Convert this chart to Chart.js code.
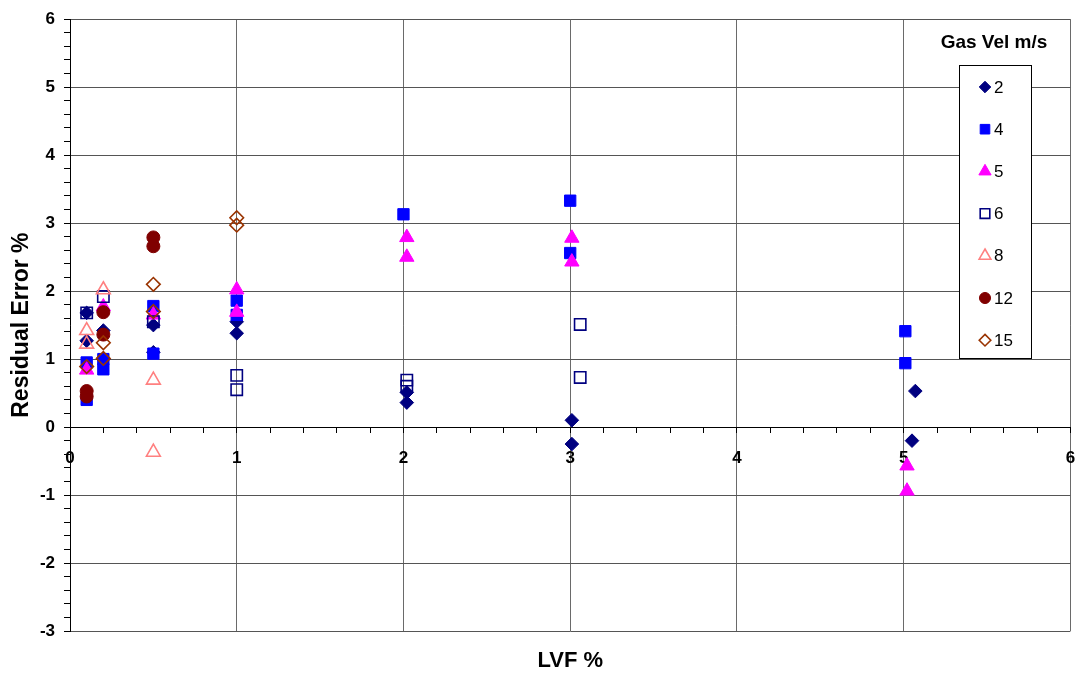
<!DOCTYPE html>
<html>
<head>
<meta charset="utf-8">
<title>Residual Error vs LVF</title>
<script src="https://cdn.jsdelivr.net/npm/chart.js"></script>
<style>
    html, body { margin: 0; padding: 0; background: #fff; }
    #wrap { width: 1080px; height: 676px; position: relative; }
</style>
</head>
<body>
<div id="wrap"><canvas id="residualChart"></canvas></div>
<script>
// RESIDUAL ERROR vs LVF - one series per gas velocity

const gasVelLabels = ['2', '4', '5', '6', '8', '12', '15'];

// gas vel 2 m/s
const lvf2 = [0.1, 0.1, 0.2, 0.2, 0.5, 0.5, 1.0, 1.0, 2.02, 2.02, 3.01, 3.01, 5.07, 5.05];
const err2 = [1.68, 1.27, 1.42, 1.00, 1.50, 1.10, 1.55, 1.38, 0.51, 0.36, 0.10, -0.25, 0.53, -0.20];

// gas vel 4 m/s
const lvf4 = [0.1, 0.1, 0.2, 0.2, 0.5, 0.5, 1.0, 1.0, 2.0, 3.0, 3.0, 5.01, 5.01];
const err4 = [0.95, 0.40, 1.00, 0.85, 1.78, 1.08, 1.86, 1.65, 3.13, 3.33, 2.56, 1.41, 0.94];

// gas vel 5 m/s
const lvf5 = [0.1, 0.2, 0.5, 1.0, 1.0, 2.02, 2.02, 3.01, 3.01, 5.02, 5.02];
const err5 = [0.84, 1.77, 1.65, 2.02, 1.69, 2.79, 2.50, 2.78, 2.43, -0.57, -0.94];

// gas vel 6 m/s
const lvf6 = [0.1, 0.2, 0.5, 1.0, 1.0, 2.02, 2.02, 3.06, 3.06];
const err6 = [1.68, 1.92, 1.55, 0.76, 0.55, 0.69, 0.60, 1.51, 0.73];

// gas vel 8 m/s
const lvf8 = [0.1, 0.1, 0.2, 0.5, 0.5];
const err8 = [1.42, 1.22, 2.02, 0.69, -0.37];

// gas vel 12 m/s
const lvf12 = [0.1, 0.1, 0.2, 0.2, 0.5, 0.5];
const err12 = [0.53, 0.45, 1.69, 1.36, 2.79, 2.66];

// gas vel 15 m/s
const lvf15 = [0.1, 0.2, 0.2, 0.5, 0.5, 1.0, 1.0];
const err15 = [0.89, 1.24, 1.01, 2.10, 1.70, 3.08, 2.97];

const xTicksMin = 0, xTicksMax = 6;
const yTicksMin = -3, yTicksMax = 6;

const seriesX = [lvf2, lvf4, lvf5, lvf6, lvf8, lvf12, lvf15];
const seriesY = [err2, err4, err5, err6, err8, err12, err15];

// marker looks (Excel-ish)
const markerStyles = [
    { shape: 'rectRot',  color: '#000080', fill: true,  r: 6.8, bw: 1 },
    { shape: 'rect',     color: '#0000FF', fill: true,  r: 8,   bw: 1 },
    { shape: 'triangle', color: '#FF00FF', fill: true,  r: 8.3, bw: 1 },
    { shape: 'rect',     color: '#000080', fill: false, r: 8,   bw: 1.6 },
    { shape: 'triangle', color: '#FF8080', fill: false, r: 8,   bw: 1.6 },
    { shape: 'circle',   color: '#800000', fill: true,  r: 6.5, bw: 1 },
    { shape: 'rectRot',  color: '#993300', fill: false, r: 6.8, bw: 1.6 }
];

const FONT = "Arial, 'Liberation Sans', sans-serif";

function isMajor(v) {
    return Math.abs(v - Math.round(v)) < 1e-6;
}

const datasets = gasVelLabels.map(function (label, i) {
    const st = markerStyles[i];
    return {
        label: label,
        data: seriesX[i].map(function (x, j) { return { x: x, y: seriesY[i][j] }; }),
        pointStyle: st.shape,
        pointRadius: st.r,
        pointHoverRadius: st.r,
        pointBorderWidth: st.bw,
        pointBorderColor: st.color,
        pointBackgroundColor: st.fill ? st.color : 'rgba(0,0,0,0)',
        showLine: false,
        order: gasVelLabels.length - i   // later series on top, like Excel
    };
});

// small marker painter for the legend
function paintMarker(ctx, st, x, y, r) {
    ctx.beginPath();
    if (st.shape === 'rect') {
        const s = Math.SQRT1_2 * r;
        ctx.rect(x - s, y - s, 2 * s, 2 * s);
    } else if (st.shape === 'rectRot') {
        ctx.moveTo(x, y - r);
        ctx.lineTo(x + r, y);
        ctx.lineTo(x, y + r);
        ctx.lineTo(x - r, y);
        ctx.closePath();
    } else if (st.shape === 'triangle') {
        ctx.moveTo(x, y - r);
        ctx.lineTo(x + r * 0.866, y + r / 2);
        ctx.lineTo(x - r * 0.866, y + r / 2);
        ctx.closePath();
    } else {
        ctx.arc(x, y, r, 0, Math.PI * 2);
    }
    if (st.fill) {
        ctx.fillStyle = st.color;
        ctx.fill();
    }
    ctx.lineWidth = st.bw;
    ctx.strokeStyle = st.color;
    ctx.stroke();
}

const extrasPlugin = {
    id: 'extras',
    afterDraw: function (chart) {
        const ctx = chart.ctx;
        const area = chart.chartArea;
        ctx.save();

        // x axis title (sits at the very bottom, not under the y=0 axis)
        ctx.fillStyle = '#000';
        ctx.font = 'bold 22px ' + FONT;
        ctx.textAlign = 'center';
        ctx.textBaseline = 'middle';
        ctx.fillText('LVF %', (area.left + area.right) / 2, 661);

        // legend title
        ctx.font = 'bold 19px ' + FONT;
        ctx.fillText('Gas Vel m/s', 994, 43);

        // legend box
        ctx.fillStyle = '#fff';
        ctx.fillRect(959, 65, 72, 294);
        ctx.strokeStyle = '#000';
        ctx.lineWidth = 1;
        ctx.strokeRect(959.5, 65.5, 72, 293);

        ctx.font = '17px ' + FONT;
        ctx.textAlign = 'left';
        gasVelLabels.forEach(function (label, i) {
            const y = 87 + i * 42.2;
            paintMarker(ctx, markerStyles[i], 985, y, markerStyles[i].r * 0.85);
            ctx.fillStyle = '#000';
            ctx.fillText(label, 994, y + 1);
        });

        ctx.restore();
    }
};

const ctx = document.getElementById('residualChart');

new Chart(ctx, {
    type: 'scatter',
    data: { datasets: datasets },
    options: {
        responsive: true,
        maintainAspectRatio: false,
        devicePixelRatio: 1,
        animation: false,
        layout: {
            padding: { left: 0, right: 9, top: 18, bottom: 45 }
        },
        plugins: {
            legend: { display: false },
            tooltip: { enabled: false }
        },
        scales: {
            x: {
                type: 'linear',
                position: { y: 0 },
                min: xTicksMin,
                max: xTicksMax,
                afterFit: function (scale) {
                    scale.paddingLeft = 0;
                    scale.paddingRight = 0;
                },
                ticks: {
                    stepSize: 0.2,
                    autoSkip: false,
                    maxRotation: 0,
                    padding: 16,
                    color: '#000',
                    font: { family: FONT, size: 17, weight: 'bold' },
                    callback: function (v) { return isMajor(v) ? String(Math.round(v)) : ''; }
                },
                grid: {
                    color: function (c) { return isMajor(c.tick.value) ? '#6a6a6a' : 'rgba(0,0,0,0)'; },
                    tickColor: '#000',
                    tickLength: 5,
                    lineWidth: 1
                },
                border: { display: true, color: '#000', width: 1 }
            },
            y: {
                type: 'linear',
                min: yTicksMin,
                max: yTicksMax,
                afterFit: function (scale) { scale.width = 70; },
                ticks: {
                    stepSize: 0.2,
                    autoSkip: false,
                    padding: 9,
                    color: '#000',
                    font: { family: FONT, size: 17, weight: 'bold' },
                    callback: function (v) { return isMajor(v) ? String(Math.round(v)) : ''; }
                },
                grid: {
                    color: function (c) { return isMajor(c.tick.value) ? '#555' : 'rgba(0,0,0,0)'; },
                    tickColor: '#000',
                    tickLength: 6,
                    lineWidth: 1
                },
                border: { display: true, color: '#000', width: 1 },
                title: {
                    display: true,
                    text: 'Residual Error %',
                    color: '#000',
                    font: { family: FONT, size: 23, weight: 'bold' },
                    padding: { top: 8, bottom: 0 }
                }
            }
        }
    },
    plugins: [extrasPlugin]
});
</script>
</body>
</html>
